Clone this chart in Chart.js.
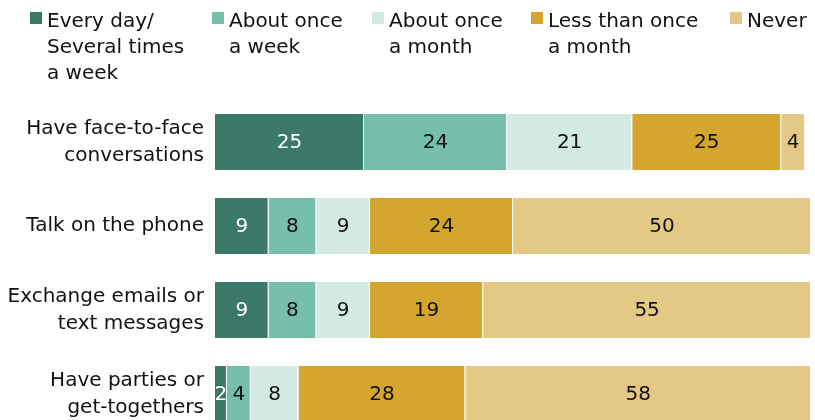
<!DOCTYPE html>
<html>
<head>
<meta charset="utf-8">
<script src="https://cdn.jsdelivr.net/npm/chart.js@4/dist/chart.umd.min.js"></script>
<style>
  html, body { margin: 0; padding: 0; background: #fff; overflow: hidden; }
  canvas { display: block; }
</style>
</head>
<body>
<canvas id="c" width="815" height="440"></canvas>
<script>
// Activities and how often each is done (percent of respondents)
const categories = [
  ["Have face-to-face", "conversations"],
  ["Talk on the phone"],
  ["Exchange emails or", "text messages"],
  ["Have parties or", "get-togethers"]
];
const seriesNames = [
  ["Every day/", "Several times", "a week"],
  ["About once", "a week"],
  ["About once", "a month"],
  ["Less than once", "a month"],
  ["Never"]
];
const everyDay        = [25, 9, 9, 2];
const onceAWeek       = [24, 8, 8, 4];
const onceAMonth      = [21, 9, 9, 8];
const lessThanMonthly = [25, 24, 19, 28];
const never           = [4, 50, 55, 58];

const seriesValues = [everyDay, onceAWeek, onceAMonth, lessThanMonthly, never];
const colors = ["#3a7867", "#76bfad", "#d2e9e4", "#d4a62f", "#e3c985"];
const labelColors = ["#ffffff", "#111111", "#111111", "#111111", "#111111"];

const FONT = "'DejaVu Sans', sans-serif";

// Multi-line legend drawn across the top; left edge of each swatch
const legendX = [30, 212, 372, 531, 730];
const topLegend = {
  id: "topLegend",
  afterDraw(chart) {
    const ctx = chart.ctx;
    ctx.save();
    ctx.font = "20px " + FONT;
    ctx.textBaseline = "alphabetic";
    ctx.textAlign = "left";
    seriesNames.forEach((lines, i) => {
      const x = legendX[i];
      ctx.fillStyle = colors[i];
      ctx.fillRect(x, 12, 12, 12);
      ctx.fillStyle = "#111";
      lines.forEach((t, j) => ctx.fillText(t, x + 17, 27 + j * 26));
    });
    ctx.restore();
  }
};

// Value written in the middle of each bar segment
const segmentLabels = {
  id: "segmentLabels",
  afterDatasetsDraw(chart) {
    const ctx = chart.ctx;
    ctx.save();
    ctx.font = "20px " + FONT;
    ctx.textAlign = "center";
    ctx.textBaseline = "middle";
    chart.data.datasets.forEach((ds, di) => {
      const meta = chart.getDatasetMeta(di);
      meta.data.forEach((bar, i) => {
        const v = ds.data[i];
        if (!v) return;
        ctx.fillStyle = labelColors[di];
        ctx.fillText(String(v), (bar.x + bar.base) / 2, bar.y + 1);
      });
    });
    ctx.restore();
  }
};

new Chart(document.getElementById("c"), {
  type: "bar",
  data: {
    labels: categories,
    datasets: seriesValues.map((vals, i) => ({
      label: seriesNames[i].join(" "),
      data: vals,
      backgroundColor: colors[i],
      borderColor: "#ffffff",
      borderWidth: { top: 0, right: 1, bottom: 0, left: 0 },
      borderSkipped: false,
      categoryPercentage: 1,
      barPercentage: 0.667
    }))
  },
  options: {
    indexAxis: "y",
    responsive: false,
    animation: false,
    layout: { padding: { top: 100, right: 4, bottom: 4, left: 0 } },
    plugins: { legend: { display: false }, tooltip: { enabled: false } },
    scales: {
      x: { stacked: true, min: 0, max: 100, display: false },
      y: {
        stacked: true,
        grid: { display: false, drawTicks: false },
        border: { display: false },
        ticks: {
          color: "#111",
          padding: 11,
          font: { family: FONT, size: 20, lineHeight: 1.35 }
        },
        afterFit(scale) {
          scale.width = 215;
          scale.paddingTop = 0;
          scale.paddingBottom = 0;
        }
      }
    }
  },
  plugins: [topLegend, segmentLabels]
});
</script>
</body>
</html>
